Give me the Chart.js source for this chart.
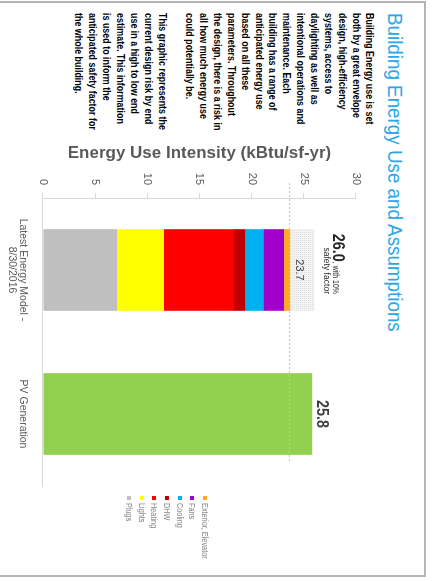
<!DOCTYPE html>
<html>
<head>
<meta charset="utf-8">
<script src="https://cdn.jsdelivr.net/npm/chart.js@4.4.1/dist/chart.umd.min.js"></script>
<style>
  html, body { margin: 0; padding: 0; background: #fff; width: 433px; height: 581px; overflow: hidden; }
  /* The sheet is laid out in landscape and turned a quarter turn clockwise */
  #page {
    position: absolute; left: 0; top: 0; width: 581px; height: 433px;
    transform-origin: 0 0; transform: translateX(433px) rotate(90deg);
    background: #fff; font-family: "Liberation Sans", Arial, sans-serif;
  }
  #frame { position: absolute; left: 1px; top: 7px; width: 576px; height: 440px; border: 2px solid #b4b4b4; box-sizing: border-box; }
  #title {
    position: absolute; left: 13px; top: 28px; font-size: 20px; line-height: 20px;
    color: #2aa7e6; white-space: nowrap; transform-origin: 0 0; transform: scaleX(0.94);
  }
  #notes {
    position: absolute; left: 13px; top: 56.5px; font-size: 11px; font-weight: bold;
    line-height: 13.86px; color: #000; white-space: nowrap; transform-origin: 0 0; transform: scaleX(0.81);
  }
  #chartBox { position: absolute; left: 130px; top: 60px; width: 451px; height: 373px; }
  #legend { position: absolute; left: 495px; top: 222px; font-size: 8.5px; color: #7f7f7f; }
  #legend .item { height: 12.7px; line-height: 12.7px; white-space: nowrap; position: relative; }
  #legend .sw { position: absolute; left: 1px; top: 4px; width: 4px; height: 4px; }
  #legend .tx { position: absolute; left: 8px; top: 0; transform-origin: 0 50%; transform: scaleX(0.86); }
</style>
</head>
<body>
<div id="page">
  <div id="frame"></div>
  <div id="title">Building Energy Use and Assumptions</div>
  <div id="notes"></div>
  <div id="chartBox"><canvas id="eui" width="451" height="373"></canvas></div>
  <div id="legend"></div>
</div>
<script>
// Categories on the horizontal axis
const categories = [['Latest Energy Model -', '8/30/2016'], 'PV Generation'];

// End uses of the latest energy model, stacked from the bottom up (kBtu/sf-yr)
const endUseNames  = ['Plugs', 'Lights', 'Heating', 'DHW', 'Cooling', 'Fans', 'Exterior, Elevator'];
const endUseValues = [7.1, 4.5, 6.7, 1.1, 1.7, 2.0, 0.6];
const endUseColors = ['#bfbfbf', '#ffff00', '#ff0000', '#c00000', '#00b0f0', '#a100cc', '#ffa726'];

// Allowance added on top of the modelled use, and on-site solar output
const safetyFactor = 2.3;
const pvGeneration = 25.8;
const pvColor = '#92d050';

// Value axis
const axisMin = 0;
const axisMax = 30;
const axisStep = 5;
const axisTitle = 'Energy Use Intensity (kBtu/sf-yr)';

const noteLines = [
  'Building Energy use is set',
  'both by a great envelope',
  'design, high-efficiency',
  'systems, access to',
  'daylighting as well as',
  'intentional operations and',
  'maintenance. Each',
  'building has a range of',
  'anticipated energy use',
  'based on all these',
  'parameters. Throughout',
  'the design, there is a risk in',
  'all how much energy use',
  'could potentially be.',
  '',
  'This graphic represents the',
  'current design risk by end',
  'use in a high to low end',
  'estimate. This information',
  'is used to inform the',
  'anticipated safety factor for',
  'the whole building.'
];

document.getElementById('notes').innerHTML =
  noteLines.map(l => l === '' ? '&nbsp;' : l).join('<br>');

const modelTotal = endUseValues.reduce((a, b) => a + b, 0);
const totalWithSafety = modelTotal + safetyFactor;

// light dotted fill for the safety allowance
function dotPattern() {
  const c = document.createElement('canvas');
  c.width = 2; c.height = 2;
  const g = c.getContext('2d');
  g.fillStyle = '#f4f4f4'; g.fillRect(0, 0, 2, 2);
  g.fillStyle = '#dcdcdc'; g.fillRect(0, 0, 1, 1);
  return g.createPattern(c, 'repeat');
}

const FONT = '"Liberation Sans", Arial, sans-serif';

const datasets = endUseNames.map((name, i) => ({
  label: name,
  data: [endUseValues[i], null],
  backgroundColor: endUseColors[i],
  stack: 'eui'
}));
datasets.push({ label: 'Safety factor', data: [safetyFactor, null], backgroundColor: dotPattern(), stack: 'eui' });
datasets.push({ label: 'PV Generation', data: [null, pvGeneration], backgroundColor: pvColor, stack: 'eui' });

// legend, listed top of the stack first
const legend = document.getElementById('legend');
for (let i = endUseNames.length - 1; i >= 0; i--) {
  const d = document.createElement('div');
  d.className = 'item';
  d.innerHTML = '<span class="sw" style="background:' + endUseColors[i] + '"></span><span class="tx">' + endUseNames[i] + '</span>';
  legend.appendChild(d);
}

function condensedText(ctx, text, x, y, sx) {
  ctx.save();
  ctx.translate(x, y);
  ctx.scale(sx, 1);
  ctx.fillText(text, 0, 0);
  ctx.restore();
}

const annotations = {
  id: 'annotations',
  afterDatasetsDraw(chart) {
    const { ctx, chartArea, scales: { y } } = chart;
    const modelBar = chart.getDatasetMeta(endUseNames.length).data[0];
    const pvBar = chart.getDatasetMeta(endUseNames.length + 1).data[1];
    const yModel = y.getPixelForValue(modelTotal);
    const ySafe = y.getPixelForValue(totalWithSafety);
    const yPv = y.getPixelForValue(pvGeneration);

    ctx.save();
    // dotted reference line at the modelled total
    ctx.strokeStyle = '#c4c4c4';
    ctx.lineWidth = 1;
    ctx.setLineDash([2, 2]);
    ctx.beginPath();
    ctx.moveTo(chartArea.left - 15, Math.round(yModel) + 0.5);
    ctx.lineTo(chartArea.right - 24, Math.round(yModel) + 0.5);
    ctx.stroke();
    ctx.setLineDash([]);

    // modelled total inside the allowance
    ctx.fillStyle = '#404040';
    ctx.font = '11px ' + FONT;
    ctx.textAlign = 'center';
    ctx.textBaseline = 'middle';
    ctx.fillText(modelTotal.toFixed(1), modelBar.x, yModel - 9);

    // total with the allowance
    const right = modelBar.x + 24;
    ctx.textBaseline = 'alphabetic';
    ctx.textAlign = 'left';
    ctx.font = '8.5px ' + FONT;
    const small = ', with 10%';
    const smallW = ctx.measureText(small).width * 0.82;
    ctx.font = 'bold 17px ' + FONT;
    const big = totalWithSafety.toFixed(1);
    const bigW = ctx.measureText(big).width * 0.85;
    ctx.fillStyle = '#262626';
    condensedText(ctx, big, right - smallW - bigW, ySafe - 19, 0.85);
    ctx.font = '8.5px ' + FONT;
    condensedText(ctx, small, right - smallW, ySafe - 19, 0.82);
    ctx.font = '9px ' + FONT;
    ctx.textAlign = 'right';
    condensedText(ctx, 'safety factor', right, ySafe - 10, 0.95);

    // PV output
    ctx.font = 'bold 17px ' + FONT;
    ctx.textAlign = 'center';
    ctx.fillStyle = '#404040';
    condensedText(ctx, pvGeneration.toFixed(1), pvBar.x, yPv - 5, 0.85);
    ctx.restore();
  }
};

new Chart(document.getElementById('eui'), {
  type: 'bar',
  data: { labels: categories, datasets },
  options: {
    responsive: false,
    animation: false,
    devicePixelRatio: 1,
    layout: { padding: { top: 17, right: 95, bottom: 0, left: 0 } },
    datasets: { bar: { barPercentage: 0.567, categoryPercentage: 1.0 } },
    plugins: { legend: { display: false }, tooltip: { enabled: false } },
    scales: {
      x: {
        stacked: true,
        grid: { display: false },
        border: { display: true, color: '#d9d9d9', width: 1 },
        ticks: { color: '#595959', font: { family: FONT, size: 10.5, lineHeight: 1.02 }, padding: 7, maxRotation: 0, autoSkip: false },
        afterFit: (s) => { s.height = 43; }
      },
      y: {
        stacked: true,
        min: axisMin,
        max: axisMax,
        ticks: { stepSize: axisStep, color: '#595959', font: { family: FONT, size: 11 }, padding: 8 },
        grid: { display: true, drawOnChartArea: false, drawTicks: true, tickLength: 5, color: '#d9d9d9' },
        border: { display: true, color: '#d9d9d9', width: 1 },
        title: { display: true, text: axisTitle, color: '#595959', font: { family: FONT, size: 17, weight: 'bold' }, padding: { top: 13, bottom: 0 } },
        afterFit: (s) => { s.width = 68; }
      }
    }
  },
  plugins: [annotations]
});
</script>
</body>
</html>
